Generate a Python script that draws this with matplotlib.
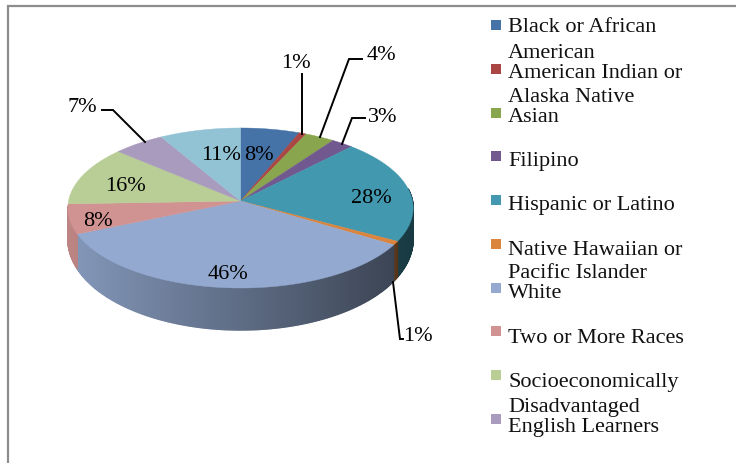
from matplotlib import pyplot as plt
from matplotlib.patches import Polygon, Rectangle
import matplotlib.colors as mcolors
import numpy as np

# Slice values, clockwise from 12 o'clock
categories = ['Black or African American', 'American Indian or Alaska Native', 'Asian',
              'Filipino', 'Hispanic or Latino', 'Native Hawaiian or Pacific Islander',
              'White', 'Two or More Races', 'Socioeconomically Disadvantaged',
              'English Learners', 'Other']
values = [8, 1, 4, 3, 28, 1, 46, 8, 16, 7, 11]
colors = ['#4572A7', '#AA4643', '#89A54E', '#71588F', '#4198AF', '#DB843D',
          '#93A9CF', '#D19392', '#B9CD96', '#A99BBD', '#92C3D5']

# Legend text, wrapped as in the picture, with baselines
legend_lines = [
    ['Black or African', 'American'],
    ['American Indian or', 'Alaska Native'],
    ['Asian'],
    ['Filipino'],
    ['Hispanic or Latino'],
    ['Native Hawaiian or', 'Pacific Islander'],
    ['White'],
    ['Two or More Races'],
    ['Socioeconomically', 'Disadvantaged'],
    ['English Learners'],
]
legend_base = [[32, 58], [78, 102], [122], [166], [210], [255, 278], [298], [343], [387, 412], [432]]
legend_box = [26, 70, 114, 157, 201, 245, 289, 332, 376, 420]

# Where the percent labels sit
label_pos = [(259, 156), (296, 63), (381, 55), (383, 117), (371, 199), (418, 337),
             (228, 275), (98, 222), (125, 187), (82, 107), (221, 156)]

# Leader lines
leaders = [
    [(302, 75), (302, 135)],
    [(362, 60), (349, 60), (320, 138)],
    [(365, 119), (352, 119), (342, 145)],
    [(393, 283), (400, 340), (403, 340)],
    [(102, 111), (113, 111), (145, 143)],
]

plt.rcParams['font.family'] = ['Liberation Serif', 'DejaVu Serif']
FS = 16

# Tilted pie with a little perspective
cx, cy = 240.5, 202
R, S, p = 172, 79.4, 0.0875


def top_xy(theta):
    u, v = np.sin(theta), np.cos(theta)
    w = 1 + p * v
    return cx + R * u / w, cy - S * v / w


def depth(theta):
    return 30 + 12 * np.maximum(-np.cos(theta), 0)


fig = plt.figure(figsize=(7.36, 4.64), dpi=100)
ax = fig.add_axes([0, 0, 1, 1])
ax.set_xlim(0, 736)
ax.set_ylim(464, 0)
ax.axis('off')

# Chart border, only top and left show in the crop
ax.plot([8, 8, 736], [464, 7, 7], color='#8c8c8c', lw=1.6, solid_joinstyle='miter')

fracs = np.array(values) / sum(values)
edges = np.concatenate([[0], np.cumsum(fracs)]) * 2 * np.pi

# Side wall first, in thin strips for the shading
for i in range(len(values)):
    a0, a1 = max(edges[i], np.pi * 0.45), min(edges[i + 1], np.pi * 1.48)
    if a1 <= a0:
        continue
    n = max(int((a1 - a0) / 0.01), 1)
    t = np.linspace(a0, a1, n + 1)
    x, y = top_xy(t)
    d = depth(t)
    rgb = np.array(mcolors.to_rgb(colors[i]))
    for j in range(n):
        shade = 0.9 - 0.52 * (x[j] - (cx - R)) / (2 * R)
        c = np.clip(rgb * shade, 0, 1)
        quad = [(x[j], y[j]), (x[j + 1], y[j + 1]),
                (x[j + 1], y[j + 1] + d[j + 1]), (x[j], y[j] + d[j])]
        ax.add_patch(Polygon(quad, closed=True, fc=c, ec=c, lw=1.0))

# Top face
for i in range(len(values)):
    t = np.linspace(edges[i], edges[i + 1], 80)
    x, y = top_xy(t)
    pts = [(cx, cy)] + list(zip(x, y))
    ax.add_patch(Polygon(pts, closed=True, fc=colors[i], ec=colors[i], lw=0.3))

for line in leaders:
    xs, ys = zip(*line)
    ax.plot(xs, ys, color='black', lw=1.4, solid_joinstyle='miter')

for v, (lx, ly) in zip(values, label_pos):
    ax.text(lx, ly, f'{v}%', fontsize=FS, ha='center', va='center', color='black')

# Legend
for i, lines in enumerate(legend_lines):
    ax.add_patch(Rectangle((491, legend_box[i] - 5), 10, 10, fc=colors[i], ec='none'))
    for txt, base in zip(lines, legend_base[i]):
        ax.text(508, base, txt, fontsize=FS, ha='left', va='baseline', color='#111111')

fig.savefig('out.png', dpi=100)
